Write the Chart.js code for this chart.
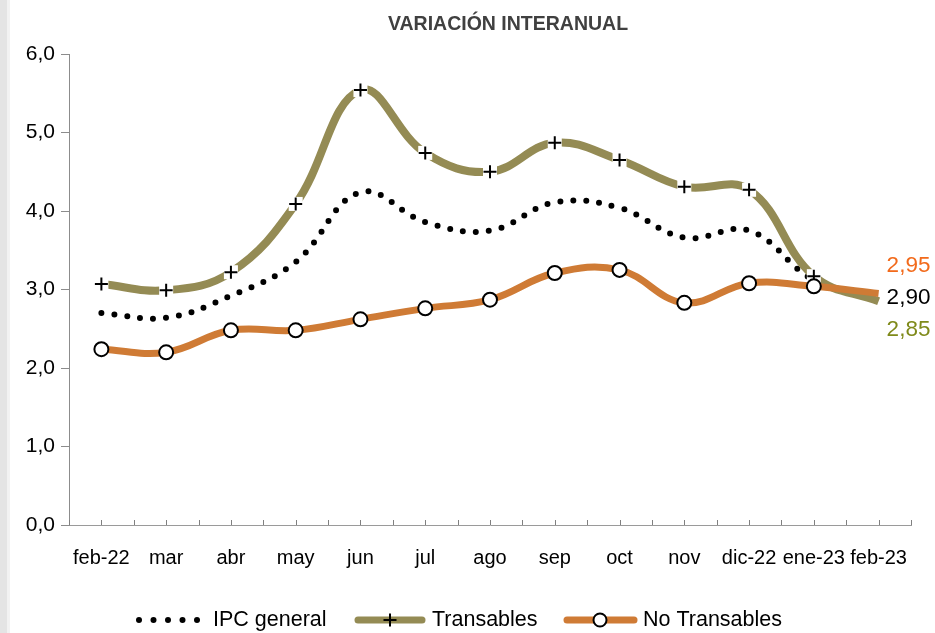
<!DOCTYPE html>
<html>
<head>
<meta charset="utf-8">
<script src="https://cdn.jsdelivr.net/npm/chart.js@4.4.1/dist/chart.umd.min.js"></script>
<style>
  html, body { margin: 0; padding: 0; background: #fff; }
  #wrap { width: 935px; height: 633px; position: relative; }
</style>
</head>
<body>
<div id="wrap"><canvas id="chart" width="935" height="633"></canvas></div>
<script>
/* =========================
   DATA
========================= */
const months = ["feb-22", "mar", "abr", "may", "jun", "jul", "ago", "sep", "oct", "nov", "dic-22", "ene-23", "feb-23"];

const ipcGeneral   = [2.70, 2.64, 2.92, 3.35, 4.24, 3.86, 3.75, 4.11, 4.04, 3.66, 3.75, 3.12, 2.90];
const transables   = [3.07, 2.99, 3.22, 4.09, 5.54, 4.74, 4.50, 4.87, 4.65, 4.31, 4.27, 3.17, 2.85];
const noTransables = [2.24, 2.20, 2.48, 2.48, 2.62, 2.76, 2.87, 3.21, 3.25, 2.83, 3.08, 3.04, 2.95];

const yTicks = [0, 1, 2, 3, 4, 5, 6];

const endLabels = [
  { text: "2,95", offset: -32, color: "#F26A1B" },
  { text: "2,90", offset: 0, color: "#000000" },
  { text: "2,85", offset: 32, color: "#7F8A1A" },
];

/* =========================
   STYLE
========================= */
const FONT = "'Liberation Sans', Arial, sans-serif";
const OLIVE = "#948B54";
const ORANGE = "#CF7B35";

const fmt = v => v.toFixed(1).replace(".", ",");
const markerRadius = arr => arr.map((_, i) => (i === arr.length - 1 ? 0 : 7));

/* =========================
   PLUGINS
========================= */
const decorPlugin = {
  id: "decor",
  beforeDraw(chart) {
    const ctx = chart.ctx;
    ctx.save();
    ctx.fillStyle = "#e4e4e4";
    ctx.fillRect(0, 0, 7, chart.height);
    ctx.fillStyle = "#f2f2f2";
    ctx.fillRect(7, 0, 3, chart.height);
    ctx.restore();
  },
  afterDraw(chart) {
    const ctx = chart.ctx;
    const x = chart.scales.x;
    const y = chart.scales.y;
    ctx.save();

    // title
    ctx.fillStyle = "#404040";
    ctx.font = "bold 19.5px " + FONT;
    ctx.textAlign = "center";
    ctx.textBaseline = "middle";
    ctx.fillText("VARIACIÓN INTERANUAL", 508, 25);

    // small upward ticks on x axis
    ctx.strokeStyle = "#808080";
    ctx.lineWidth = 1;
    for (let i = 0; i <= months.length * 2; i++) {
      const px = Math.round(x.getPixelForValue(i / 2 - 0.5)) + 0.5;
      ctx.beginPath();
      ctx.moveTo(px, y.bottom);
      ctx.lineTo(px, y.bottom - 5);
      ctx.stroke();
    }

    // end labels
    ctx.font = "22.5px " + FONT;
    ctx.textAlign = "left";
    const lastX = x.getPixelForValue(months.length - 1);
    endLabels.forEach(l => {
      ctx.fillStyle = l.color;
      ctx.fillText(l.text, lastX + 8, y.getPixelForValue(2.90) + l.offset);
    });

    // legend
    const ly = 620;
    ctx.font = "21.5px " + FONT;
    ctx.textBaseline = "middle";
    // IPC general
    ctx.fillStyle = "#000";
    for (let k = 0; k < 5; k++) {
      ctx.beginPath();
      ctx.arc(139 + k * 14.5, ly, 3, 0, Math.PI * 2);
      ctx.fill();
    }
    ctx.fillText("IPC general", 213, ly);
    // Transables
    ctx.strokeStyle = OLIVE;
    ctx.lineWidth = 7;
    ctx.lineCap = "round";
    ctx.beginPath(); ctx.moveTo(358, ly); ctx.lineTo(422, ly); ctx.stroke();
    drawPlus(ctx, 390, ly);
    ctx.fillStyle = "#000";
    ctx.fillText("Transables", 432, ly);
    // No Transables
    ctx.strokeStyle = ORANGE;
    ctx.beginPath(); ctx.moveTo(567, ly); ctx.lineTo(634, ly); ctx.stroke();
    ctx.fillStyle = "#fff";
    ctx.strokeStyle = "#000";
    ctx.lineWidth = 2;
    ctx.beginPath(); ctx.arc(600, ly, 6.5, 0, Math.PI * 2); ctx.fill(); ctx.stroke();
    ctx.fillStyle = "#000";
    ctx.fillText("No Transables", 643, ly);

    ctx.restore();
  },
  afterDatasetDraw(chart, args) {
    // plus markers for Transables
    if (chart.data.datasets[args.index].label !== "Transables") return;
    const ctx = chart.ctx;
    ctx.save();
    args.meta.data.forEach((pt, i) => {
      if (i === months.length - 1) return;
      ctx.fillStyle = "#fff";
      ctx.fillRect(pt.x - 7, pt.y - 7, 14, 14);
      drawPlus(ctx, pt.x, pt.y);
    });
    ctx.restore();
  },
};

function drawPlus(ctx, cx, cy) {
  ctx.save();
  ctx.strokeStyle = "#000";
  ctx.lineWidth = 2;
  ctx.lineCap = "butt";
  ctx.beginPath();
  ctx.moveTo(cx - 6.5, cy); ctx.lineTo(cx + 6.5, cy);
  ctx.moveTo(cx, cy - 6.5); ctx.lineTo(cx, cy + 6.5);
  ctx.stroke();
  ctx.restore();
}

/* =========================
   CHART
========================= */
new Chart(document.getElementById("chart"), {
  type: "line",
  data: {
    labels: months,
    datasets: [
      {
        label: "No Transables",
        data: noTransables,
        borderColor: ORANGE,
        borderWidth: 7,
        tension: 0.4,
        pointRadius: markerRadius(noTransables),
        pointBackgroundColor: "#fff",
        pointBorderColor: "#000",
        pointBorderWidth: 2,
        order: 1,
      },
      {
        label: "IPC general",
        data: ipcGeneral,
        borderColor: "#000",
        borderWidth: 6,
        borderDash: [0, 13],
        borderCapStyle: "round",
        tension: 0.4,
        pointRadius: 0,
        order: 3,
      },
      {
        label: "Transables",
        data: transables,
        borderColor: OLIVE,
        borderWidth: 8,
        tension: 0.4,
        pointRadius: 0,
        order: 2,
      },
    ],
  },
  options: {
    responsive: false,
    animation: false,
    layout: { padding: { top: 54, right: 24, left: 0, bottom: 0 } },
    plugins: {
      legend: { display: false },
      title: { display: false },
      tooltip: { enabled: false },
    },
    scales: {
      x: {
        offset: true,
        afterFit: s => { s.height = 108; },
        grid: { display: false, drawTicks: false },
        border: { display: true, color: "#9a9a9a", dash: [2, 2], width: 1 },
        ticks: {
          color: "#000",
          padding: 21,
          maxRotation: 0,
          autoSkip: false,
          font: { family: FONT, size: 20 },
        },
      },
      y: {
        min: 0,
        max: 6,
        afterFit: s => { s.width = 69; },
        afterBuildTicks: s => { s.ticks = yTicks.map(v => ({ value: v })); },
        grid: { drawOnChartArea: false, drawTicks: true, tickLength: 8, color: "#8c8c8c" },
        border: { display: true, color: "#8c8c8c", width: 1 },
        ticks: {
          color: "#000",
          padding: 6,
          font: { family: FONT, size: 21 },
          callback: v => fmt(v),
        },
      },
    },
  },
  plugins: [decorPlugin],
});
</script>
</body>
</html>
